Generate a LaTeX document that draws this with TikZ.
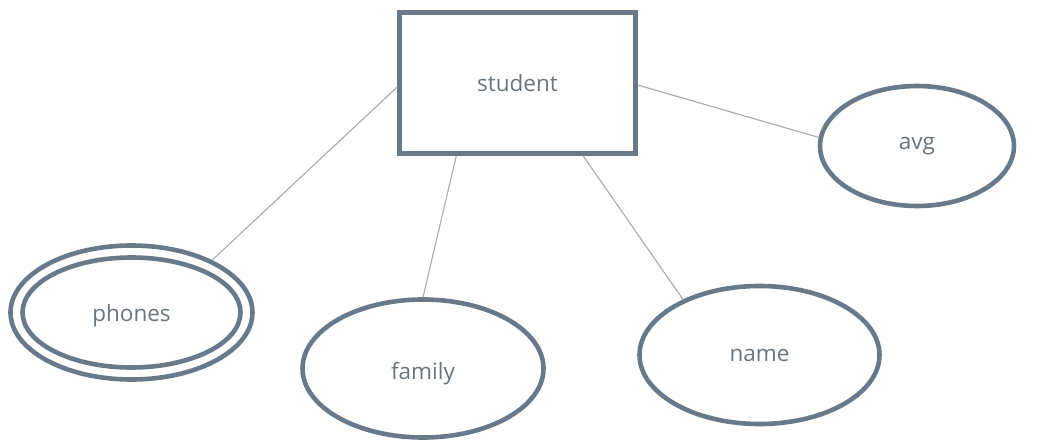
\documentclass[tikz,border=0pt]{standalone}
\usepackage{fontspec}
\setmainfont{Open Sans}
\usetikzlibrary{shapes.geometric}
\definecolor{bord}{HTML}{687A89}
\definecolor{conn}{HTML}{A3ABB2}
\definecolor{txt}{HTML}{6A747D}
\tikzset{
  ent/.style={draw=bord, line width=5pt, rectangle, minimum width=236pt, minimum height=141pt, inner sep=0pt, font=\fontsize{22.5}{26}\selectfont, text=txt},
  attr/.style={draw=bord, line width=4.6pt, ellipse, inner sep=0pt, font=\fontsize{22.5}{26}\selectfont, text=txt},
  conline/.style={draw=conn, line width=1.1pt}
}
\begin{document}
\begin{tikzpicture}[x=1pt,y=-1pt]
\useasboundingbox (0,0) rectangle (1061,447);
\node[ent] (student) at (517.5,83) {student};
\node[attr, minimum width=194pt, minimum height=120pt] (avg) at (917,146) {avg};
\node[attr, minimum width=242pt, minimum height=134pt] (phones) at (131.5,312.5) {};
\node[text=txt, font=\fontsize{22.5}{26}\selectfont] (phonestxt) at (131.5,316) {phones};
\node[draw=bord, line width=4.6pt, ellipse, inner sep=0pt, minimum width=218pt, minimum height=110pt] (phonesin) at (131.5,312.5) {};
\node[attr, minimum width=241pt, minimum height=138pt] (family) at (423,368.5) {};
\node[text=txt, font=\fontsize{22.5}{26}\selectfont] (familytxt) at (423,374) {family};
\node[attr, minimum width=240pt, minimum height=138pt] (name) at (759.5,355) {name};
\draw[conline] (student.182) -- (phones.33);
\draw[conline] (student.230) -- (family.90);
\draw[conline] (student.312) -- (name.144);
\draw[conline] (student.-1.5) -- (avg.175);
\end{tikzpicture}
\end{document}
